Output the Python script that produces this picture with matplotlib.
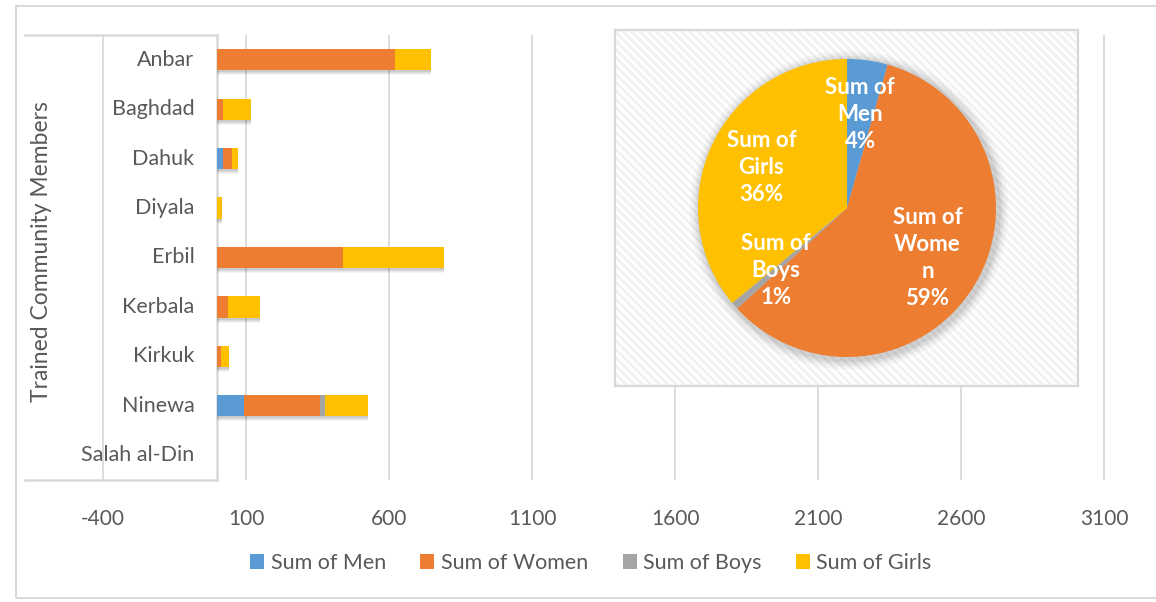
import matplotlib
matplotlib.use("Agg")
import matplotlib.pyplot as plt
from matplotlib.patches import Rectangle, Circle
import numpy as np

# ---- data ----
categories = ["Anbar", "Baghdad", "Dahuk", "Diyala", "Erbil", "Kerbala", "Kirkuk", "Ninewa", "Salah al-Din"]
men   = [0,   0,  18, 0,   0,   0,  0,  92, 0]
women = [620, 20, 32, 0, 440,  38, 14, 268, 0]
boys  = [0,   0,   0, 0,   0,   0,  0,  16, 0]
girls = [125, 97, 22, 16, 352, 112, 26, 152, 0]
series_names = ["Sum of Men", "Sum of Women", "Sum of Boys", "Sum of Girls"]
pie_labels = ["Sum of\nMen", "Sum of\nWome\nn", "Sum of\nBoys", "Sum of\nGirls"]
pie_values = [4.4, 58.8, 0.8, 36.0]
xticks = [-400, 100, 600, 1100, 1600, 2100, 2600, 3100]
axis_title = "Trained Community Members"

colors = ["#5B9BD5", "#ED7D31", "#A5A5A5", "#FFC000"]
grid_c = "#D9D9D9"
text_c = "#595959"
FONT = "Lato"
plt.rcParams["font.family"] = [FONT, "DejaVu Sans"]

W, H = 1156, 602
fig = plt.figure(figsize=(W / 100, H / 100), dpi=100)
fig.patch.set_facecolor("white")

def fx(px):
    return px / W

def fy(py):
    return 1 - py / H

# outer border
fig.patches.append(Rectangle((fx(16), fy(598)), fx(1170) - fx(16), fy(6) - fy(598),
                             transform=fig.transFigure, fill=False, ec=grid_c, lw=1.5, zorder=0))

# ---- bar axes ----
xmin, xmax = -673, 3104
left_px, right_px = 25, 1104 + 4 * 0.286
ax = fig.add_axes([fx(left_px), fy(480), fx(right_px) - fx(left_px), fy(35) - fy(480)], zorder=1)
ax.set_xlim(xmin, xmax)
ax.set_ylim(len(categories) - 0.5, -0.5)
for s in ax.spines.values():
    s.set_visible(False)
ax.set_facecolor("none")

for t in xticks:
    ax.axvline(t, color=grid_c, lw=1.3, zorder=0)
# box around category labels
ax.plot([xmin, 0], [-0.5, -0.5], color=grid_c, lw=1.8, zorder=1, clip_on=False)
ax.plot([xmin, 0], [len(categories) - 0.5, len(categories) - 0.5], color=grid_c, lw=1.8, zorder=1, clip_on=False)
ax.plot([0, 0], [-0.5, len(categories) - 0.5], color=grid_c, lw=1.8, zorder=1, clip_on=False)

ax.set_xticks(xticks)
ax.set_xticklabels([str(t) for t in xticks], fontsize=15, color=text_c)
ax.tick_params(axis="x", length=0, pad=21)
ax.set_yticks([])

y = np.arange(len(categories))
bh = 0.43
data = [men, women, boys, girls]
totals = np.sum(np.array(data), axis=0)
# soft shadow
for off, a in [(5, 0.04), (4, 0.05), (3, 0.06), (2, 0.07)]:
    dy = off / 49.4
    ax.barh(y + dy * 0.5, totals, left=0, height=bh + dy, color="black", alpha=a, zorder=2, lw=0)
left = np.zeros(len(categories))
for vals, c, name in zip(data, colors, series_names):
    ax.barh(y, vals, left=left, height=bh, color=c, label=name, zorder=3, lw=0)
    left += np.array(vals)

for i, cat in enumerate(categories):
    ax.annotate(cat, xy=(0, i), xytext=(-23, 0), textcoords="offset pixels",
                ha="right", va="center", fontsize=15.5, color=text_c)

fig.text(fx(42), fy(252), axis_title, rotation=90, ha="center", va="center", fontsize=16.5, color=text_c)

handles, labels = ax.get_legend_handles_labels()
leg = fig.legend(handles, labels, loc="center", bbox_to_anchor=(fx(591), fy(563)), ncol=4,
                 frameon=False, fontsize=15.5, handlelength=0.65, handleheight=0.65,
                 handletextpad=0.3, columnspacing=1.6, labelcolor=text_c)

# ---- pie box ----
bx0, by0, bx1, by1 = 615, 30, 1078, 386
axb = fig.add_axes([fx(bx0), fy(by1), fx(bx1) - fx(bx0), fy(by0) - fy(by1)], zorder=2)
axb.set_xlim(0, 1)
axb.set_ylim(0, 1)
axb.set_xticks([])
axb.set_yticks([])
axb.set_facecolor("white")
plt.rcParams["hatch.linewidth"] = 2.0
axb.add_patch(Rectangle((0, 0), 1, 1, transform=axb.transAxes, facecolor="white",
                        edgecolor="#F2F2F2", hatch="\\\\\\\\", lw=0, zorder=0))
for s in axb.spines.values():
    s.set_color(grid_c)
    s.set_linewidth(1.6)

# ---- pie ----
cx, cy, R = 847, 208, 149
axp = fig.add_axes([fx(cx - R), fy(cy + R), fx(2 * R), fy(cy - R) - fy(cy + R)], zorder=3)
axp.set_facecolor("none")
axp.axis("off")
for r, a in [(1.07, 0.03), (1.05, 0.04), (1.035, 0.05), (1.02, 0.06)]:
    axp.add_patch(Circle((0.015, -0.015), r, color="black", alpha=a, lw=0, clip_on=False, zorder=0))
wedges, _ = axp.pie(pie_values, colors=colors, startangle=90, counterclock=False,
                    radius=1.0, wedgeprops=dict(lw=0, zorder=2))
axp.set_xlim(-1, 1)
axp.set_ylim(-1, 1)
tot = sum(pie_values)
for w, lab, v in zip(wedges, pie_labels, pie_values):
    ang = np.deg2rad((w.theta1 + w.theta2) / 2)
    rr = 0.635
    txt = f"{lab}\n{round(v / tot * 100)}%"
    axp.text(rr * np.cos(ang), rr * np.sin(ang), txt, ha="center", va="center",
             fontsize=16, fontweight="bold", color="white", linespacing=1.35, zorder=5)

fig.savefig("out.png", dpi=100, facecolor="white")
